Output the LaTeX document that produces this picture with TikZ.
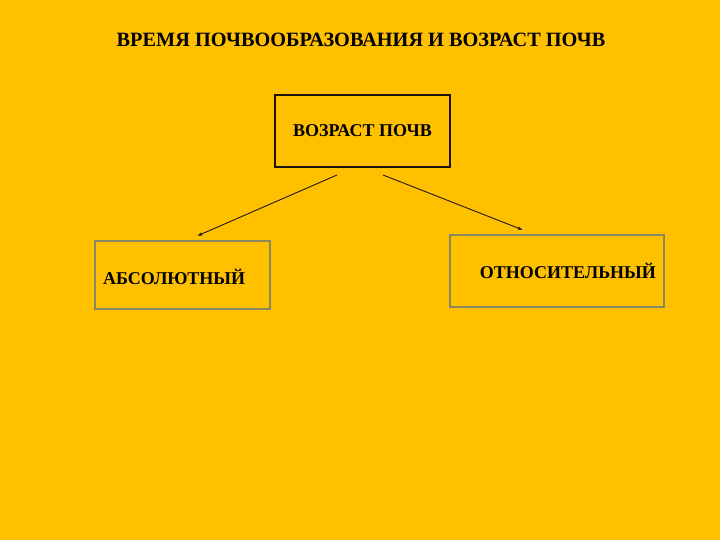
\documentclass[tikz,border=0pt]{standalone}
\usepackage{fontspec}
\setmainfont{Liberation Serif}
\usetikzlibrary{arrows.meta}
\begin{document}
\begin{tikzpicture}[x=1pt,y=-1pt,
  lbl/.style={font=\bfseries\fontsize{18}{20}\selectfont, text=black, inner sep=0pt},
  boxtop/.style={draw=black!85!brown, line width=1.5pt, minimum width=175pt, minimum height=72pt, inner sep=0pt},
  boxside/.style={draw=black!55!yellow!60!gray, line width=1.5pt, inner sep=0pt},
  arr/.style={-{Latex[length=5pt,width=3.5pt]}, line width=0.9pt, draw=black!80!brown}]
\useasboundingbox[fill={rgb,255:red,255;green,192;blue,0}] (0,0) rectangle (720,540);
\node[lbl, font=\bfseries\fontsize{20.3}{22}\selectfont] (title) at (361,40) {ВРЕМЯ ПОЧВООБРАЗОВАНИЯ И ВОЗРАСТ ПОЧВ};
\node[boxtop] (top) at (362.5,131) {};
\node[lbl] (toptxt) at (362.5,131) {ВОЗРАСТ ПОЧВ};
\node[boxside, minimum width=175pt, minimum height=68pt] (left) at (182.5,275) {};
\node[lbl, anchor=west] (lefttxt) at (103,277) {АБСОЛЮТНЫЙ};
\node[boxside, minimum width=214pt, minimum height=72pt] (right) at (557,271) {};
\node[lbl, anchor=east] (righttxt) at (656,271) {ОТНОСИТЕЛЬНЫЙ};
\coordinate (a1) at (337,175);
\coordinate (a2) at (197,236);
\coordinate (b1) at (383,175);
\coordinate (b2) at (523,230);
\draw[arr] (a1) -- (a2);
\draw[arr] (b1) -- (b2);
\end{tikzpicture}
\end{document}
